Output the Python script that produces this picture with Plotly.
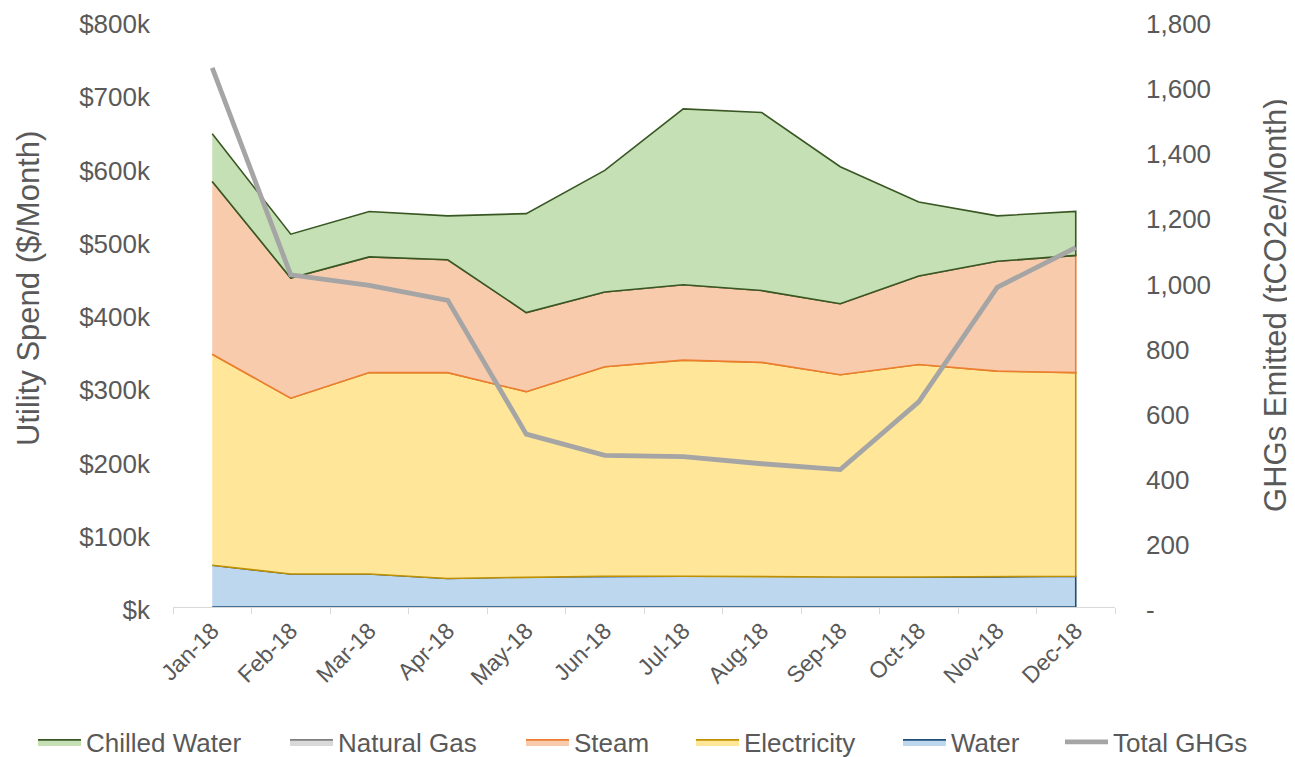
import numpy as np
import plotly.graph_objects as go

months = ["Jan-18", "Feb-18", "Mar-18", "Apr-18", "May-18", "Jun-18",
          "Jul-18", "Aug-18", "Sep-18", "Oct-18", "Nov-18", "Dec-18"]

# Utility spend, $k per month
water = [57, 45, 45, 39, 41, 42, 42, 42, 41, 41, 41, 42]
electricity = [288, 240, 275, 281, 253, 286, 295, 292, 276, 290, 281, 278]
steam = [236, 164, 158, 154, 108, 102, 103, 98, 97, 121, 150, 160]
natural_gas = [0, 0, 0, 0, 0, 0, 0, 0, 0, 0, 0, 0]
chilled_water = [65, 60, 62, 60, 135, 166, 240, 243, 187, 101, 62, 60]

# Total GHGs, tCO2e per month
total_ghgs = [1656, 1020, 988, 942, 531, 466, 462, 440, 422, 630, 982, 1104]

left_ticks = [0, 100, 200, 300, 400, 500, 600, 700, 800]
left_ticktext = ["$k", "$100k", "$200k", "$300k", "$400k", "$500k", "$600k", "$700k", "$800k"]
right_ticks = [0, 200, 400, 600, 800, 1000, 1200, 1400, 1600, 1800]
right_ticktext = ["-", "200", "400", "600", "800", "1,000", "1,200", "1,400", "1,600", "1,800"]

# (name, values, fill, line, legend id)
series = [
    ("Water", water, "#BDD7EE", "#1F4E79", "legend5"),
    ("Electricity", electricity, "#FFE699", "#BF9000", "legend4"),
    ("Steam", steam, "#F8CBAD", "#ED7D31", "legend3"),
    ("Natural Gas", natural_gas, "#D9D9D9", "#7F7F7F", "legend2"),
    ("Chilled Water", chilled_water, "#C5E0B4", "#385723", "legend"),
]

FONT = "Liberation Sans, Arial, sans-serif"
TXT = "#595959"

fig = go.Figure()
base = np.zeros(len(months))
for name, vals, fillc, linec, leg in series:
    v = np.array(vals, dtype=float) * 1000.0
    top = base + v
    xs = months + months[::-1]
    ys = list(top) + list(base[::-1])
    fig.add_trace(go.Scatter(
        x=xs, y=ys, name=name, mode="lines", fill="toself",
        fillcolor=fillc, line=dict(color=linec, width=1.6),
        legend=leg, yaxis="y", hoverinfo="skip",
    ))
    base = top

fig.add_trace(go.Scatter(
    x=months, y=total_ghgs, name="Total GHGs", mode="lines",
    line=dict(color="#A5A5A5", width=4.8), yaxis="y2", legend="legend6",
))

leg_common = dict(orientation="h", xanchor="left", y=-0.2304, yanchor="middle",
                  font=dict(size=26, color=TXT, family=FONT), itemwidth=43,
                  bgcolor="rgba(0,0,0,0)")
leg_x = [-0.1486, 0.1189, 0.3694, 0.5499, 0.7696, 0.9416]

fig.update_layout(
    width=1295, height=785,
    margin=dict(l=165, r=188, t=13, b=186),
    paper_bgcolor="white", plot_bgcolor="white",
    font=dict(family=FONT, color=TXT, size=26),
    showlegend=True,
    legend=dict(x=leg_x[0], **leg_common),
    legend2=dict(x=leg_x[1], **leg_common),
    legend3=dict(x=leg_x[2], **leg_common),
    legend4=dict(x=leg_x[3], **leg_common),
    legend5=dict(x=leg_x[4], **leg_common),
    legend6=dict(x=leg_x[5], **leg_common),
    xaxis=dict(
        type="category", categoryorder="array", categoryarray=months,
        range=[-0.5, 11.5], showgrid=False, zeroline=False,
        showline=True, linecolor="#D9D9D9", linewidth=1.3,
        ticks="outside", tickson="boundaries", ticklen=6, tickcolor="#D9D9D9",
        tickangle=-45, tickfont=dict(size=23, color=TXT),
    ),
    yaxis=dict(
        range=[0, 800000], tickvals=[t * 1000 for t in left_ticks], ticktext=left_ticktext,
        showgrid=False, zeroline=False, showline=False, ticks="",
        ticklabelstandoff=22, ticklabelshift=3, ticklabeloverflow="allow",
        tickfont=dict(size=26, color=TXT), automargin=False,
    ),
    yaxis2=dict(
        range=[0, 1800], tickvals=right_ticks, ticktext=right_ticktext,
        overlaying="y", side="right", showgrid=False, zeroline=False, showline=False,
        ticks="", ticklabelstandoff=30, ticklabelshift=3, ticklabeloverflow="allow",
        tickfont=dict(size=26, color=TXT), automargin=False,
    ),
    annotations=[
        dict(text="Utility Spend ($/Month)", textangle=-90, xref="paper", yref="paper",
             x=-0.1529, y=0.5444, xanchor="center", yanchor="middle", showarrow=False,
             font=dict(size=31, color=TXT, family=FONT)),
        dict(text="GHGs Emitted (tCO2e/Month)", textangle=-90, xref="paper", yref="paper",
             x=1.1709, y=0.5154, xanchor="center", yanchor="middle", showarrow=False,
             font=dict(size=31, color=TXT, family=FONT)),
    ],
)

fig.write_html("out.html")
